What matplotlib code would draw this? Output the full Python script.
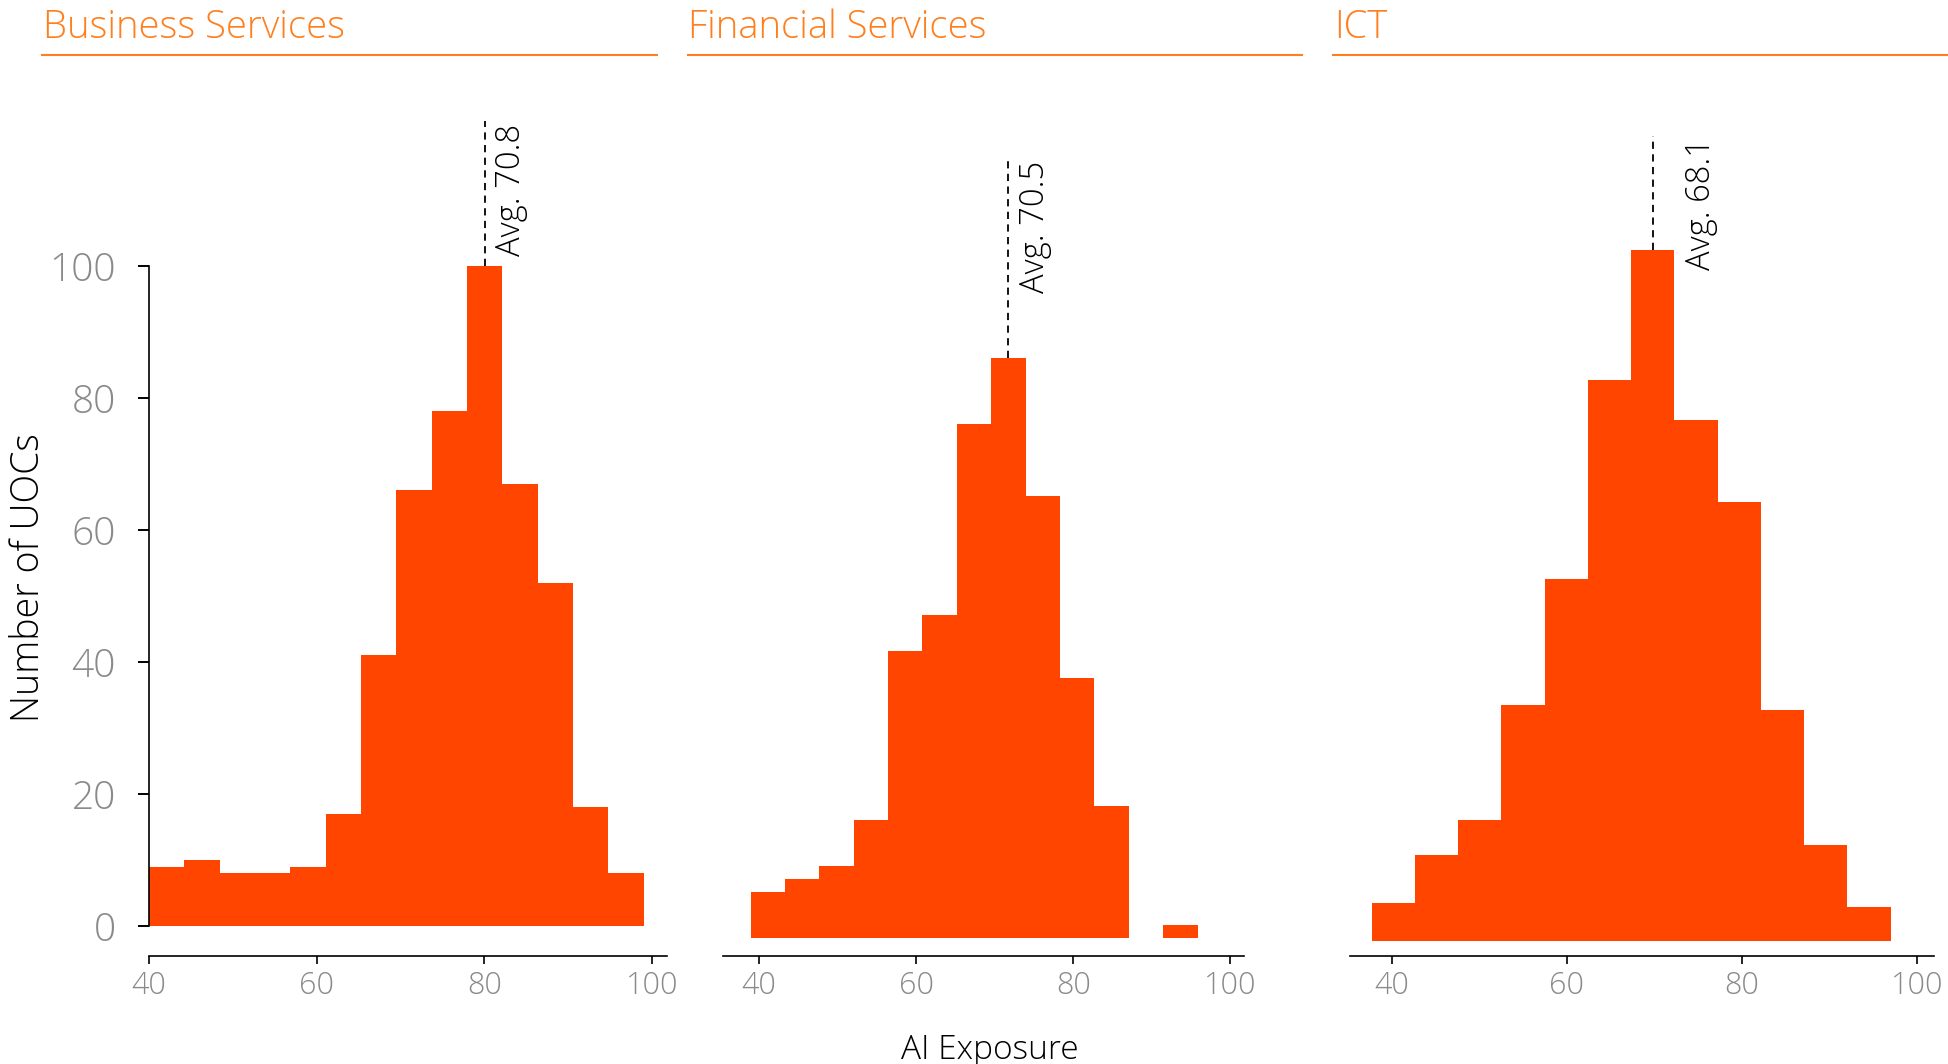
import numpy as np
import matplotlib
matplotlib.use("Agg")
import matplotlib.pyplot as plt
from matplotlib.lines import Line2D

plt.rcParams['font.family'] = ['Open Sans', 'DejaVu Sans']
plt.rcParams['font.weight'] = 'light'

# panel data
titles = ["Business Services", "Financial Services", "ICT"]
avg_labels = ["Avg. 70.8", "Avg. 70.5", "Avg. 68.1"]

bs_start, bs_width = 40.0, 4.214
bs_counts = [9, 10, 8, 8, 9, 17, 41, 66, 78, 100, 67, 52, 18, 8]

fs_start, fs_width = 38.9, 4.38
fs_counts = [7, 9, 11, 18, 43.5, 49, 78, 88, 67, 39.5, 20, 0, 2]

ict_start, ict_width = 37.73, 4.94
ict_counts = [5.8, 13, 18.3, 35.8, 54.8, 85, 104.7, 79, 66.5, 35, 14.5, 5.1]

avg_line_top = [122, 118.3, 122]

W, H = 1948, 1064
S = W / 1568.0  # shrunk -> full px
BAR = '#FF4500'
ORANGE = '#FF7F1E'
GREY = '#8a8a8a'

fig = plt.figure(figsize=(W / 100, H / 100), dpi=100)

# axes layout in shrunk px: left, right, baseline(y=0), xlim
layout = [
    (120, 537, 745, (40, 101.8)),
    (582, 1001, 755, (35.4, 101.7)),
    (1087, 1557, 757, (35.3, 102.0)),
]
spine_y = 769
top_px = 90
px_per_unit = 5.31
text_off = [7, 7, 23]

panels = [
    (bs_start, bs_width, bs_counts),
    (fs_start, fs_width, fs_counts),
    (ict_start, ict_width, ict_counts),
]

for i, ((l, r, base, xl), (start, width, counts)) in enumerate(zip(layout, panels)):
    ax = fig.add_axes([l / 1568, 1 - base / 856, (r - l) / 1568, (base - top_px) / 856])
    counts = np.array(counts, dtype=float)
    edges = start + width * np.arange(len(counts) + 1)
    ax.bar(edges[:-1], counts, width=width, align='edge', color=BAR,
           edgecolor='none', linewidth=0)
    ax.set_xlim(*xl)
    ax.set_ylim(0, (base - top_px) / px_per_unit)
    ax.patch.set_alpha(0)

    # dashed avg marker on the tallest bin
    k = int(np.argmax(counts))
    xc = edges[k] + width / 2
    ax.plot([xc, xc], [counts[k], avg_line_top[i]], color='black',
            linestyle=(0, (4, 3)), linewidth=1.3, clip_on=False)
    ax.annotate(avg_labels[i], xy=(xc, avg_line_top[i]), xytext=(text_off[i], -2),
                textcoords='offset points', rotation=90, ha='left', va='top',
                fontsize=23.5, color='black', annotation_clip=False)

    for s in ['top', 'right']:
        ax.spines[s].set_visible(False)
    ax.spines['bottom'].set_position(('outward', (spine_y - base) * S * 0.72))
    ax.spines['bottom'].set_linewidth(1.2)
    ax.set_xticks([40, 60, 80, 100])
    ax.tick_params(axis='x', direction='out', length=6, width=1.2, pad=4,
                   labelsize=22, labelcolor=GREY)

    if i == 0:
        ax.spines['left'].set_bounds(0, 100)
        ax.spines['left'].set_linewidth(1.2)
        ax.set_yticks([0, 20, 40, 60, 80, 100])
        ax.tick_params(axis='y', direction='out', length=8, width=1.4, pad=16,
                       labelsize=28, labelcolor=GREY)
    else:
        ax.spines['left'].set_visible(False)
        ax.set_yticks([])

# titles with underline
title_x = [35, 554, 1074]
line_x = [(34, 529), (554, 1048), (1073, 1568)]
for t, tx, (x0, x1) in zip(titles, title_x, line_x):
    fig.text(tx / 1568, 0.9640, t, color=ORANGE, fontsize=27.5,
             ha='left', va='baseline')
    fig.add_artist(Line2D([x0 / 1568, x1 / 1568], [1 - 44 / 856] * 2,
                          transform=fig.transFigure, color=ORANGE, linewidth=1.5))

fig.text(23 / 1568, 1 - 465 / 856, "Number of UOCs", rotation=90, ha='center',
         va='center', fontsize=27, color='black')
fig.text(797 / 1568, 1 - 845 / 856, "AI Exposure", ha='center', va='center',
         fontsize=24, color='black')

fig.savefig('out.png', dpi=100)
